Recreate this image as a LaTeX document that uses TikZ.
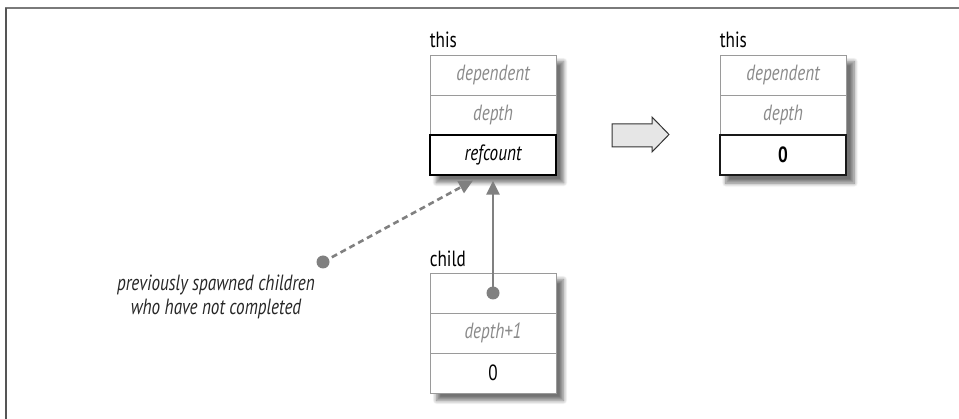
\documentclass[tikz,border=0pt]{standalone}
\usepackage{fontspec}
\setmainfont{PT Sans}[FakeStretch=0.78]
\usetikzlibrary{shadows.blur,backgrounds,fit,arrows.meta}
\definecolor{framegray}{HTML}{7A7A7A}
\definecolor{leftgray}{HTML}{555555}
\definecolor{txtgray}{HTML}{8A8A8A}
\definecolor{linegray}{HTML}{9A9A9A}
\definecolor{arrgray}{HTML}{808080}
\definecolor{arrfill}{HTML}{E6E6E6}
\begin{document}
\begin{tikzpicture}[x=1pt,y=-1pt,
  cell/.style={draw=linegray, line width=0.8pt, fill=white, minimum width=126pt,
    minimum height=40pt, inner sep=0pt, text=txtgray,
    font=\fontsize{22}{25}\selectfont\itshape},
  keycell/.style={cell, draw=black, line width=1.2pt, text=black},
  boldcell/.style={cell, draw=black!90, line width=2.2pt, text=black,
    font=\fontsize{22}{25}\selectfont\bfseries},
  plaincell/.style={cell, text=black, font=\fontsize{22}{25}\selectfont},
  lbl/.style={anchor=base west, inner sep=0pt, font=\fontsize{22}{25}\selectfont},
  shadowbox/.style={inner sep=0pt, fill=white,
    blur shadow={shadow xshift=7pt, shadow yshift=-7pt, shadow blur radius=4pt,
      shadow opacity=55, shadow blur steps=8}},
  dotnode/.style={circle, fill=arrgray, minimum size=13pt, inner sep=0pt},
  ptr/.style={draw=arrgray, line width=2.6pt, -{Triangle[length=14pt,width=13pt]}},
  dptr/.style={ptr, dash pattern=on 6pt off 4pt},
  bigarrow/.style={draw=black!80, fill=arrfill, line width=1pt, line join=miter}
]
\useasboundingbox (0,0) rectangle (959,419);

% frame
\draw[framegray, line width=2pt] (5,8.5) -- (959,8.5);
\draw[leftgray, line width=1.5pt] (6,8) -- (6,419);

% left "this"
\node[cell] (t1a) at (493,75) {dependent};
\node[cell] (t1b) at (493,115) {depth};
\node[keycell] (t1c) at (493,155) {refcount};
\node[lbl] (l1) at ([yshift=7pt]t1a.north west) {this};

% right "this"
\node[cell] (t2a) at (783,75) {dependent};
\node[cell] (t2b) at (783,115) {depth};
\node[boldcell] (t2c) at (783,155) {0};
\node[lbl] (l2) at ([yshift=7pt]t2a.north west) {this};

% child
\node[cell] (c1) at (493,293) {};
\node[cell] (c2) at (493,333) {depth+1};
\node[plaincell] (c3) at (493,373) {0};
\node[lbl] (l3) at ([yshift=6pt]c1.north west) {child};

% shadows
\begin{scope}[on background layer]
  \node[shadowbox, fit=(t1a)(t1c)] (s1) {};
  \node[shadowbox, fit=(t2a)(t2c)] (s2) {};
  \node[shadowbox, fit=(c1)(c3)] (s3) {};
\end{scope}

% transformation arrow
\draw[bigarrow] (612,124) -- (652,124) -- (652,117) -- (669,134.5) -- (652,152)
  -- (652,147) -- (612,147) -- cycle;

% pointers
\node[dotnode] (d1) at (c1.center) {};
\draw[ptr] (d1.center) -- ([yshift=-5pt]t1c.south);

\node[dotnode] (d2) at (323,262) {};
\coordinate (dtip) at ([xshift=-20pt,yshift=-5pt]t1c.south);
\draw[dptr] (d2.center) -- (dtip);

\node[align=center, inner sep=0pt, text=black!85,
  font=\fontsize{22}{24}\selectfont\itshape] (note) at (216,297)
  {previously spawned children\\who have not completed};
\end{tikzpicture}
\end{document}
